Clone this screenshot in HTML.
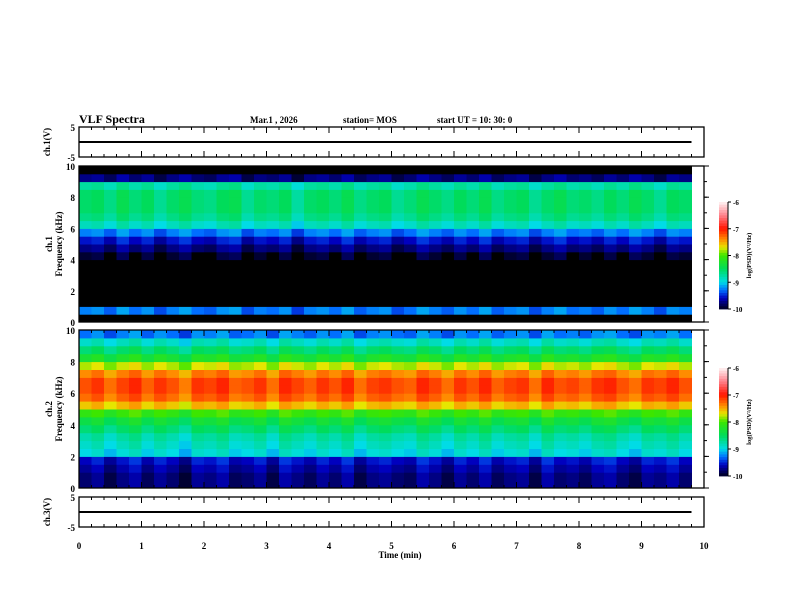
<!DOCTYPE html>
<html><head><meta charset="utf-8"><style>
body{margin:0;background:#fff}
svg{display:block;font-family:"Liberation Serif",serif;font-weight:bold}
</style></head><body>
<svg id="c" width="792" height="612" viewBox="0 0 792 612">
<rect width="792" height="612" fill="#fff"/>
<text x="79" y="123" font-size="12">VLF Spectra</text>
<text x="250" y="123" font-size="9">Mar.1 , 2026</text>
<text x="343" y="123" font-size="9">station= MOS</text>
<text x="437" y="123" font-size="9">start  UT =   10: 30: 0</text>
<g id="g"></g>
</svg>
<script>
// ---- data ----
const timeTicks=[0,1,2,3,4,5,6,7,8,9,10];
const freqTicks=[0,2,4,6,8,10];
const cbTicks=[-6,-7,-8,-9,-10];
const dataEndMin=9.8;
// mean log PSD per 0.5 kHz band (0 -> 10 kHz)
const ch1Profile=[-10.3,-9.3,-10.4,-10.4,-10.3,-10.3,-10.2,-10.2,-10.0,-9.8,-9.6,-9.3,-8.9,-8.7,-8.6,-8.6,-8.6,-8.8,-9.8,-10.6];
const ch2Profile=[-9.8,-9.8,-9.7,-9.6,-9.0,-8.9,-8.8,-8.6,-8.4,-8.1,-7.6,-7.3,-7.2,-7.2,-7.4,-7.8,-8.3,-8.6,-8.9,-9.3];
// time modulation per column (49 columns over 0..9.8 min)
const ch1Mod=[0.05,0.1,-0.05,0.15,0.0,0.1,-0.1,0.05,0.15,0.0,-0.05,0.1,0.15,-0.1,0.05,0.0,0.1,-0.15,0.05,0.1,0.0,0.15,-0.05,0.05,0.1,-0.1,0.0,0.15,0.05,-0.05,0.1,0.0,0.15,-0.05,0.05,0.1,-0.1,0.05,0.15,0.0,0.05,-0.05,0.1,0.0,0.15,0.05,-0.1,0.1,0.05];
const ch2Mod=[0.0,0.1,-0.1,0.05,0.15,-0.05,0.1,0.0,-0.15,0.1,0.05,0.15,-0.05,0.0,0.1,-0.1,0.15,0.05,-0.05,0.1,0.0,0.15,-0.1,0.05,0.1,0.0,-0.05,0.15,0.05,-0.1,0.1,0.0,0.15,-0.05,0.05,0.1,-0.1,0.15,0.0,0.05,-0.05,0.1,0.15,0.0,-0.1,0.1,0.05,0.15,0.0];
// ---- layout ----
const NS="http://www.w3.org/2000/svg",G=document.getElementById('g');
const X0=79,X1=704;
const xs=t=>X0+(X1-X0)*t/10;
function el(tag,at,txt){const e=document.createElementNS(NS,tag);for(const k in at)e.setAttribute(k,at[k]);if(txt!==undefined)e.textContent=txt;G.appendChild(e);return e;}
function cmap(v){
 const stops=[[-10,[0,0,30]],[-9.6,[0,0,190]],[-9.3,[0,110,255]],[-9.0,[0,220,230]],[-8.5,[0,220,90]],[-8.0,[60,230,0]],[-7.7,[230,230,0]],[-7.4,[255,140,0]],[-7.0,[255,20,0]],[-6.5,[255,130,140]],[-6,[255,245,245]]];
 if(v<=stops[0][0])return 'rgb(0,0,0)';
 for(let i=1;i<stops.length;i++){if(v<=stops[i][0]){const a=stops[i-1],b=stops[i],f=(v-a[0])/(b[0]-a[0]);return 'rgb('+a[1].map((c,j)=>Math.round(c+(b[1][j]-c)*f)).join(',')+')';}}
 return 'rgb(255,245,245)';
}
function frame(y0,y1,name){
 const r=el('rect',{x:X0,y:y0,width:X1-X0,height:y1-y0,fill:'none',stroke:'#000','stroke-width':1.3});
 
 for(let t=0;t<=10;t+=0.2){const x=xs(t),major=Math.abs(t-Math.round(t))<1e-6,len=major?6:3;
  el('line',{x1:x,y1:y0,x2:x,y2:y0+len,stroke:'#000','stroke-width':1});
  el('line',{x1:x,y1:y1,x2:x,y2:y1-len,stroke:'#000','stroke-width':1});}
}
function timeSeries(y0,y1,yl,name,label){
 frame(y0,y1,name);
 const l=el('line',{x1:X0,y1:yl,x2:xs(dataEndMin),y2:yl,stroke:'#000','stroke-width':2});
 
 el('text',{x:X0-4,y:y0+4,'font-size':9,'text-anchor':'end'},'5');
 el('text',{x:X0-4,y:y1+4,'font-size':9,'text-anchor':'end'},'-5');
 const t=el('text',{x:0,y:0,'font-size':9,'text-anchor':'middle',transform:`translate(50,${(y0+y1)/2}) rotate(-90)`},label);
 
}
function spectro(y0,y1,prof,mod,name,label,cby0,cby1){
 const nT=mod.length,cw=(xs(dataEndMin)-X0)/nT,bh=(y1-y0)/prof.length;
 el('rect',{x:X0,y:y0,width:X1-X0,height:y1-y0,fill:'#fff'});
 for(let i=0;i<nT;i++)for(let j=0;j<prof.length;j++){
  const r=el('rect',{x:X0+i*cw,y:y1-(j+1)*bh,width:cw+0.5,height:bh+0.5,fill:cmap(prof[j]+mod[i])});
  
 }
 frame(y0,y1,name);
 freqTicks.forEach(f=>{const y=y1-(y1-y0)*f/10;el('text',{x:X0-4,y:y+4,'font-size':9,'text-anchor':'end'},String(f));
  el('line',{x1:X1,y1:y,x2:X1+5,y2:y,stroke:'#000'});});
 for(let f=0;f<=10;f+=1){const y=y1-(y1-y0)*f/10;el('line',{x1:X1,y1:y,x2:X1+3,y2:y,stroke:'#000'});}
 const t=el('text',{x:0,y:0,'font-size':9,'text-anchor':'middle',transform:`translate(52,${(y0+y1)/2}) rotate(-90)`});
 
 const a=document.createElementNS(NS,'tspan');a.setAttribute('x',0);a.setAttribute('dy',0);a.textContent=label;t.appendChild(a);
 const b=document.createElementNS(NS,'tspan');b.setAttribute('x',0);b.setAttribute('dy',10);b.textContent='Frequency (kHz)';t.appendChild(b);
 const n=40,h=(cby1-cby0)/n;
 for(let k=0;k<n;k++){const v=-6-4*(k+0.5)/n;const r=el('rect',{x:719,y:cby0+k*h,width:9,height:h+0.4,fill:cmap(v)});
  }
 el('line',{x1:728,y1:cby0,x2:728,y2:cby1,stroke:'#000'});
 cbTicks.forEach(v=>{const y=cby0+(cby1-cby0)*(-6-v)/4;el('line',{x1:728,y1:y,x2:731,y2:y,stroke:'#000'});
  el('text',{x:733,y:y+3,'font-size':7},String(v));});
 const ct=el('text',{x:0,y:0,'font-size':6.5,'text-anchor':'middle',transform:`translate(751,${(cby0+cby1)/2}) rotate(-90)`},'log(PSD)(V²/Hz)');
 
}
timeSeries(127,157,142,'ch1-panel','ch.1(V)');
spectro(166,322,ch1Profile,ch1Mod,'ch1-spectrogram','ch.1',202,309);
spectro(330,488,ch2Profile,ch2Mod,'ch2-spectrogram','ch.2',368,476);
timeSeries(497,527,512,'ch3-panel','ch.3(V)');
timeTicks.forEach(t=>{const tx=el('text',{x:xs(t),y:549,'font-size':9,'text-anchor':'middle'},String(t));
 });
const xl=el('text',{x:400,y:558,'font-size':9,'text-anchor':'middle'},'Time  (min)');

</script>
</body></html>
